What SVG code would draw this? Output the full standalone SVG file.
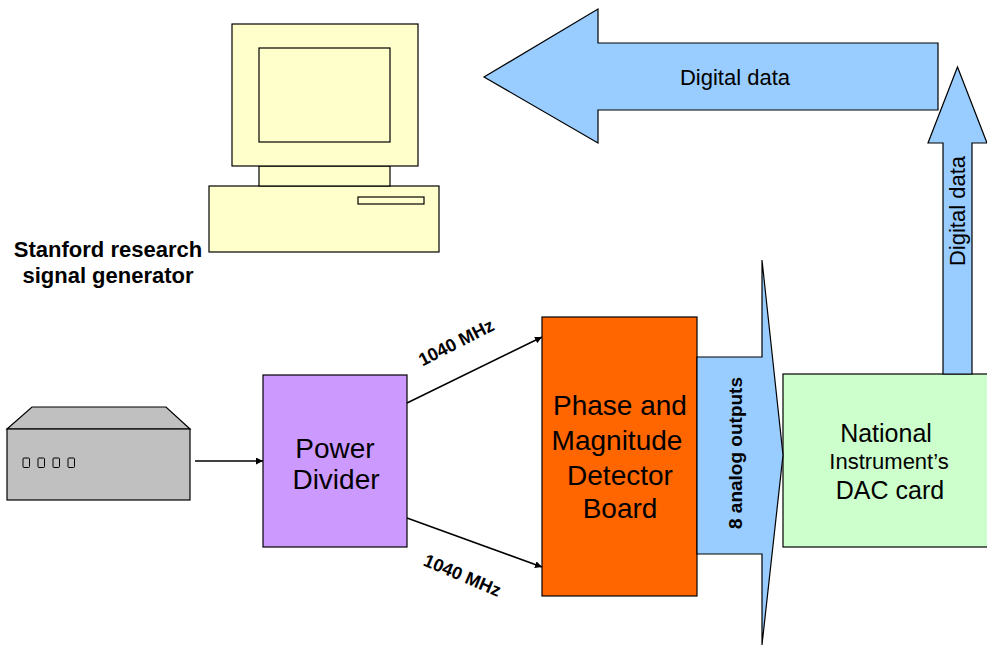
<svg xmlns="http://www.w3.org/2000/svg" width="987" height="651" viewBox="0 0 987 651">
  <style>
    .ln { stroke: #000; stroke-width: 1.2; }
    .txt { font-family: "Liberation Sans", Arial, sans-serif; fill: #000; }
    .bold { font-weight: bold; }
    .flow { fill: #99CCFF; stroke: #000; stroke-width: 1.2; stroke-linejoin: miter; }
    .wire { stroke: #000; stroke-width: 1.5; fill: none; marker-end: url(#head); }
  </style>
  <defs>
    <marker id="head" viewBox="0 0 10 10" refX="10" refY="5" markerWidth="7" markerHeight="7" markerUnits="userSpaceOnUse" orient="auto">
      <path d="M0,0 L10,5 L0,10 z" fill="#000"/>
    </marker>
  </defs>
  <rect width="987" height="651" fill="#fff"/>

  <!-- computer -->
  <g id="computer">
    <rect x="209" y="186" width="230" height="66" fill="#FFFFCC" class="ln"/>
    <rect x="358" y="197" width="66" height="7" fill="#FFFFCC" class="ln"/>
    <rect x="259" y="166" width="131" height="20" fill="#FFFFCC" class="ln"/>
    <rect x="232" y="24" width="186" height="142" fill="#FFFFCC" class="ln"/>
    <rect x="259" y="48" width="131" height="94" fill="#FFFFCC" class="ln"/>
  </g>

  <!-- signal generator -->
  <g id="signal-generator">
    <path d="M7,429 L32,407 L166,407 L190,429 Z" fill="#C0C0C0" class="ln"/>
    <rect x="7" y="429" width="183" height="71" fill="#C0C0C0" class="ln"/>
    <rect x="23" y="458" width="6.5" height="9.5" rx="1" fill="#C0C0C0" stroke="#000" stroke-width="1"/>
    <rect x="38" y="458" width="6.5" height="9.5" rx="1" fill="#C0C0C0" stroke="#000" stroke-width="1"/>
    <rect x="53" y="458" width="6.5" height="9.5" rx="1" fill="#C0C0C0" stroke="#000" stroke-width="1"/>
    <rect x="68" y="458" width="6.5" height="9.5" rx="1" fill="#C0C0C0" stroke="#000" stroke-width="1"/>
    <text class="txt bold" font-size="22" text-anchor="middle" x="108" y="257">Stanford research</text>
    <text class="txt bold" font-size="22" text-anchor="middle" x="108" y="283">signal generator</text>
  </g>

  <!-- power divider -->
  <g id="power-divider">
    <rect x="263" y="375" width="144" height="172" fill="#CC99FF" class="ln"/>
    <text class="txt" font-size="28" text-anchor="middle" x="335" y="458">Power</text>
    <text class="txt" font-size="28" text-anchor="middle" x="336" y="489">Divider</text>
  </g>

  <!-- phase and magnitude detector -->
  <g id="detector-board">
    <rect x="542" y="317" width="155" height="279" fill="#FF6600" class="ln"/>
    <text class="txt" font-size="28" text-anchor="middle" x="620" y="415">Phase and</text>
    <text class="txt" font-size="28" text-anchor="middle" x="617" y="450">Magnitude</text>
    <text class="txt" font-size="28" text-anchor="middle" x="620" y="485">Detector</text>
    <text class="txt" font-size="28" text-anchor="middle" x="620" y="518">Board</text>
  </g>

  <!-- DAC card -->
  <g id="dac-card">
    <rect x="783" y="374" width="210" height="173" fill="#CCFFCC" class="ln"/>
    <text class="txt" font-size="25" text-anchor="middle" x="886" y="442">National</text>
    <text class="txt" font-size="22" text-anchor="middle" x="889" y="469">Instrument’s</text>
    <text class="txt" font-size="25" text-anchor="middle" x="890" y="499">DAC card</text>
  </g>

  <!-- connectors -->
  <g id="connectors">
    <line class="wire" x1="195" y1="461" x2="263" y2="461"/>
    <line class="wire" x1="407" y1="403" x2="542" y2="337"/>
    <line class="wire" x1="407" y1="518" x2="542" y2="567"/>
    <text class="txt bold" font-size="18" text-anchor="middle" transform="translate(459,348) rotate(-27)">1040 MHz</text>
    <text class="txt bold" font-size="18" text-anchor="middle" transform="translate(460,581) rotate(23)">1040 MHz</text>

    <path class="flow" d="M697,357 L762,357 L762,260 L783,455 L762,645 L762,554 L697,554 Z"/>
    <text class="txt bold" font-size="19" text-anchor="middle" transform="translate(742,453) rotate(-90)">8 analog outputs</text>

    <path class="flow" d="M943,374 L943,143 L928,143 L957.5,67 L987,143 L972,143 L972,374 Z"/>
    <text class="txt" font-size="22" text-anchor="middle" transform="translate(965,211) rotate(-90)">Digital data</text>

    <path class="flow" d="M938,43 L598,43 L598,9 L484,77 L598,143 L598,110 L938,110 Z"/>
    <text class="txt" font-size="22" text-anchor="middle" x="735" y="85">Digital data</text>
  </g>
</svg>
